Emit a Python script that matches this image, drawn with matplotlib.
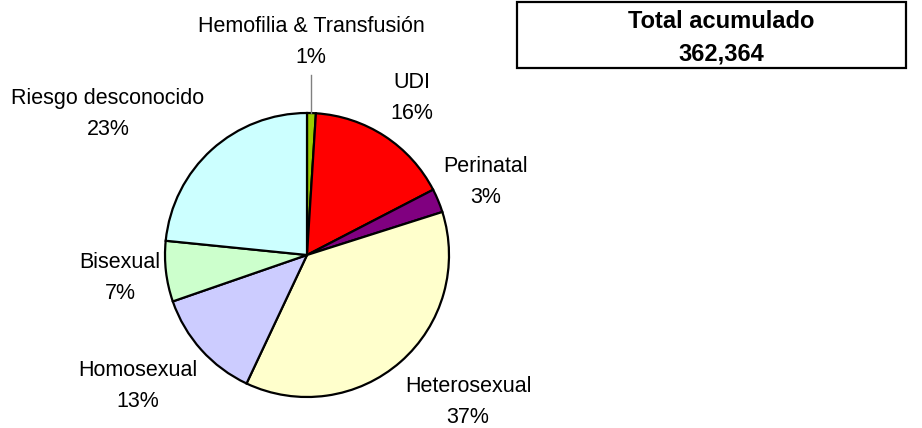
import numpy as np
import matplotlib
matplotlib.use("Agg")
import matplotlib.pyplot as plt
from matplotlib.patches import Rectangle

# =============================
# DATA
# =============================
categories = ["Hemofilia & Transfusión", "UDI", "Perinatal", "Heterosexual",
              "Homosexual", "Bisexual", "Riesgo desconocido"]
values = [1.0, 16.4, 2.7, 36.9, 12.7, 6.9, 23.4]
colors = ["#99CC00", "#FF0000", "#800080", "#FFFFCC",
          "#CCCCFF", "#CCFFCC", "#CCFFFF"]
total_title = "Total acumulado"
total_value = "362,364"

# label centres in pixels (x, y from top)
label_pos = [(311, 42), (412, 98), (486, 182), (468, 402),
             (138, 386), (120, 278), (108, 114)]

W, H = 922, 428
plt.rcParams['font.family'] = ['Liberation Sans', 'DejaVu Sans']

fig = plt.figure(figsize=(W / 100, H / 100), dpi=100)
fig.patch.set_facecolor("white")

# =============================
# PIE
# =============================
cx, cy, r = 307, 255, 142
ax = fig.add_axes([(cx - r) / W, (H - cy - r) / H, 2 * r / W, 2 * r / H])
wedges, _ = ax.pie(values, colors=colors, startangle=90, counterclock=False,
                   wedgeprops=dict(edgecolor="black", linewidth=1.6))
ax.set_xlim(-1, 1)
ax.set_ylim(-1, 1)
ax.set_aspect("equal")
ax.axis("off")

# leader line for the small slice
mid = np.deg2rad(90 - values[0] / sum(values) * 360 / 2)
ax.plot([np.cos(mid), np.cos(mid)], [np.sin(mid), 1.27], color="#808080",
        linewidth=1, clip_on=False)

# =============================
# LABELS
# =============================
total = sum(values)
for name, v, (px, py) in zip(categories, values, label_pos):
    fig.text(px / W, 1 - py / H, f"{name}\n{round(v / total * 100):.0f}%",
             ha="center", va="center", fontsize=15.5, linespacing=1.6)

# =============================
# TOTAL BOX
# =============================
fig.add_artist(Rectangle((517 / W, 1 - 68 / H), (906 - 517) / W, 66 / H,
                         transform=fig.transFigure, fill=False,
                         edgecolor="black", linewidth=1.6))
fig.text(721 / W, 1 - 37.5 / H, f"{total_title}\n{total_value}", ha="center",
         va="center", fontsize=17, fontweight="bold", linespacing=1.5)

fig.savefig("out.png", dpi=100)
